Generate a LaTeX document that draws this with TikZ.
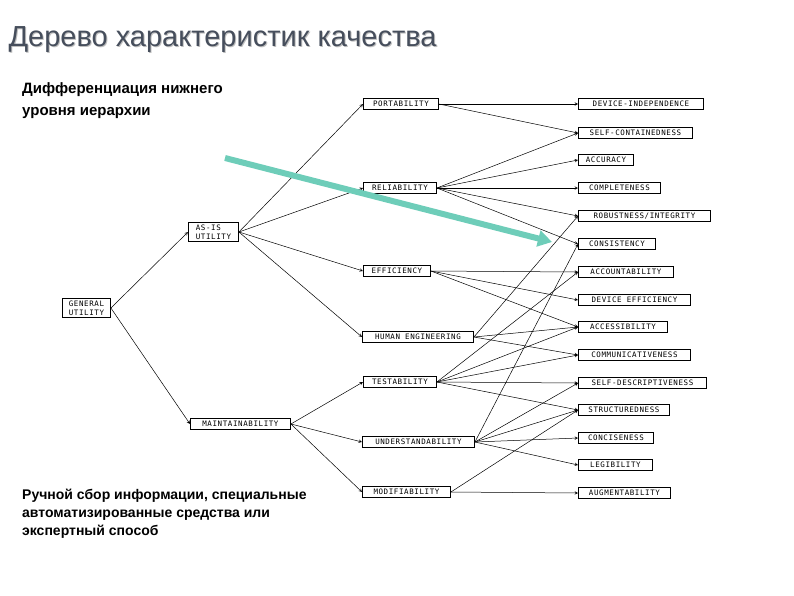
\documentclass[tikz,border=0pt]{standalone}
\usetikzlibrary{arrows.meta}
\usepackage{fontspec}
\setmainfont{Liberation Sans}
\newfontfamily\boxfont[LetterSpace=8]{DejaVu Sans Mono}
\begin{document}
\begin{tikzpicture}[x=1pt,y=-1pt,
 qb/.style={draw,line width=0.9pt,inner sep=2.5pt,font=\boxfont\fontsize{7.5}{9}\selectfont,anchor=west,align=left,minimum width=#1},
 qb/.default=10pt,
 ed/.style={->,>=stealth,line width=0.5pt}]
\useasboundingbox (0,0) rectangle (794,595);
\node[anchor=west,text=black!25,font=\fontsize{29}{32}\selectfont] at (6,41) {Дерево характеристик качества};
\node[anchor=west,text={rgb,255:red,70;green,78;blue,92},font=\fontsize{29}{32}\selectfont] (title) at (5,40) {Дерево характеристик качества};
\node[anchor=north west,align=left,font=\bfseries\fontsize{15}{22}\selectfont,inner sep=0] (sub) at (22,82) {Дифференциация нижнего\\уровня иерархии};
\node[anchor=north west,align=left,font=\bfseries\fontsize{14}{18}\selectfont,inner sep=0] (bot) at (22,489) {Ручной сбор информации, специальные\\автоматизированные средства или\\экспертный способ};
\node[qb=48pt] (gu) at (62,308) {GENERAL\\UTILITY};
\node[qb=50pt] (as) at (188,232) {AS-IS\\UTILITY};
\node[qb=100pt] (mt) at (190,424) {MAINTAINABILITY};
\node[qb=75pt] (po) at (363,104) {PORTABILITY};
\node[qb=73pt] (re) at (363,188) {RELIABILITY};
\node[qb=67pt] (ef) at (363,271) {EFFICIENCY};
\node[qb=111pt] (he) at (362,337) {HUMAN ENGINEERING};
\node[qb=73pt] (te) at (363,382) {TESTABILITY};
\node[qb=112pt] (un) at (362,442) {UNDERSTANDABILITY};
\node[qb=88pt] (mo) at (362,492) {MODIFIABILITY};
\node[qb=125pt] (di) at (578,104) {DEVICE-INDEPENDENCE};
\node[qb=114pt] (sc) at (578,133) {SELF-CONTAINEDNESS};
\node[qb=55pt] (ac) at (578,160) {ACCURACY};
\node[qb=82pt] (co) at (578,188) {COMPLETENESS};
\node[qb=132pt] (ro) at (578,216) {ROBUSTNESS/INTEGRITY};
\node[qb=77pt] (cs) at (578,244) {CONSISTENCY};
\node[qb=95pt] (ab) at (578,272) {ACCOUNTABILITY};
\node[qb=112pt] (de) at (578,300) {DEVICE EFFICIENCY};
\node[qb=89pt] (ax) at (578,327) {ACCESSIBILITY};
\node[qb=112pt] (cm) at (578,355) {COMMUNICATIVENESS};
\node[qb=128pt] (sd) at (578,383) {SELF-DESCRIPTIVENESS};
\node[qb=91pt] (st) at (578,410) {STRUCTUREDNESS};
\node[qb=75pt] (cn) at (578,438) {CONCISENESS};
\node[qb=74pt] (lg) at (578,465) {LEGIBILITY};
\node[qb=92pt] (au) at (578,493) {AUGMENTABILITY};
\foreach \a/\b in {gu/as,gu/mt,as/po,as/re,as/ef,as/he,mt/te,mt/un,mt/mo}
  \draw[ed] (\a.east) -- (\b.west);
\foreach \a/\b in {po/di,po/sc,re/sc,re/ac,re/co,re/ro,re/cs,ef/ab,ef/de,ef/ax,he/ro,he/ax,he/cm,te/ab,te/ax,te/cm,te/sd,te/st,un/cs,un/sd,un/st,un/cn,un/lg,mo/st,mo/au}
  \draw[ed] (\a.east) -- (\b.west);
\coordinate (ts) at (225,158);
\coordinate (te2) at (552,242);
\draw[-{Triangle[length=14pt,width=16pt]},line width=6pt,draw={rgb,255:red,110;green,205;blue,185},fill={rgb,255:red,110;green,205;blue,185}] (ts) -- (te2);
\end{tikzpicture}
\end{document}
